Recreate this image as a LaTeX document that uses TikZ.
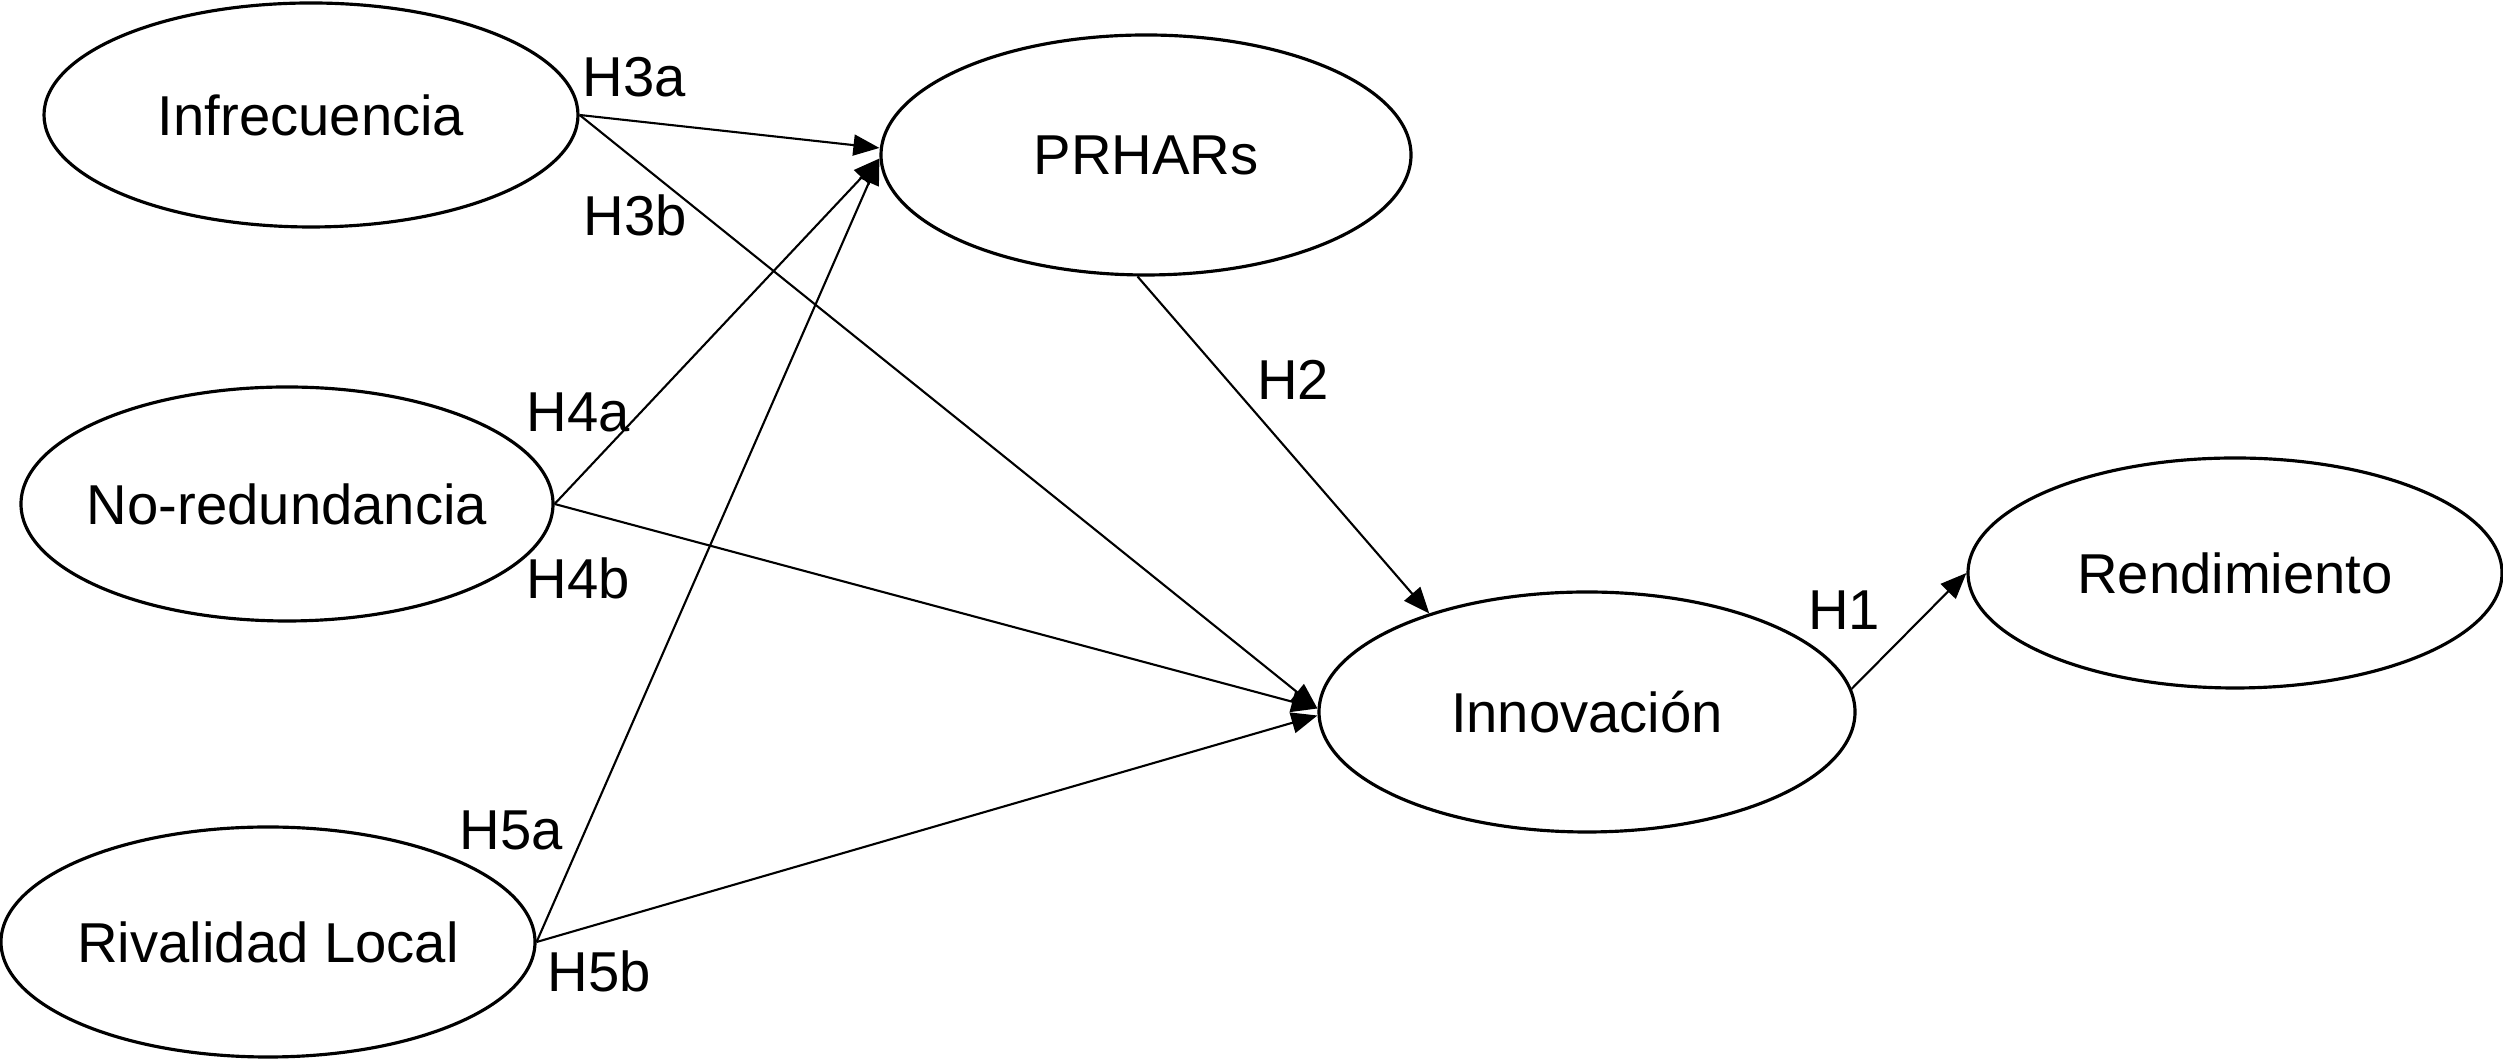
\documentclass[tikz,border=0pt]{standalone}
\usepackage{fontspec}
\setmainfont{Liberation Sans}
\usetikzlibrary{positioning,arrows.meta,shapes.geometric}
\tikzset{
  latent/.style={draw=black, ellipse, line width=0.9pt, inner sep=0pt, inner xsep=-0.6cm, font=\fontsize{16}{18}\selectfont},
  hyp/.style={font=\fontsize{16}{18}\selectfont, inner sep=0pt},
  arr/.style={-{Triangle[length=0.26cm,width=0.21cm]}, line width=0.6pt}
}
\begin{document}
\begin{tikzpicture}
\useasboundingbox (0,0) rectangle (25.03,10.6);
% constructs
\node[latent, minimum width=5.34cm, minimum height=2.24cm] (infr) at (3.11,9.45) {Infrecuencia};
\node[latent, minimum width=5.30cm, minimum height=2.40cm] (prh) at (11.46,9.05) {PRHARs};
\node[latent, minimum width=5.32cm, minimum height=2.34cm] (nored) at (2.87,5.56) {No-redundancia};
\node[latent, minimum width=5.34cm, minimum height=2.30cm] (rival) at (2.68,1.18) {Rivalidad Local};
\node[latent, minimum width=5.36cm, minimum height=2.40cm] (innov) at (15.87,3.48) {Innovación};
\node[latent, minimum width=5.34cm, minimum height=2.30cm] (rend) at (22.35,4.87) {Rendimiento};
% paths
\draw[arr] (infr.east) -- ([yshift=2pt]prh.west);
\draw[arr] (infr.east) -- ([yshift=1pt]innov.west);
\draw[arr] (nored.east) -- ([yshift=-1pt]prh.west);
\draw[arr] (nored.east) -- ([yshift=1pt]innov.west);
\draw[arr] (rival.east) -- ([yshift=-1pt]prh.west);
\draw[arr] (rival.east) -- ([yshift=-1pt]innov.west);
\draw[arr] (prh.266) -- (innov.148);
\draw[arr] (innov.5) -- (rend.west);
% hypotheses
\node[hyp] (h3a) at (6.34,9.83) {H3a};
\node[hyp] (h3b) at (6.35,8.45) {H3b};
\node[hyp] (h4a) at (5.78,6.48) {H4a};
\node[hyp] (h4b) at (5.78,4.82) {H4b};
\node[hyp] (h5a) at (5.11,2.30) {H5a};
\node[hyp] (h5b) at (5.99,0.89) {H5b};
\node[hyp] (h2) at (12.93,6.80) {H2};
\node[hyp] (h1) at (18.44,4.50) {H1};
\end{tikzpicture}
\end{document}
